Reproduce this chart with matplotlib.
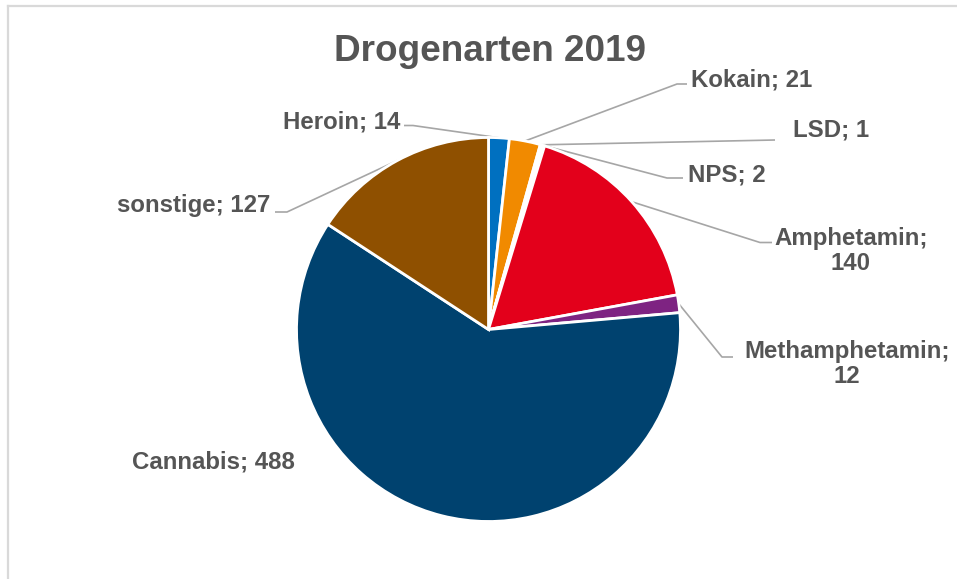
import matplotlib
matplotlib.use("Agg")
import matplotlib.pyplot as plt
import numpy as np

W, H = 957, 579
DPI = 100

title = "Drogenarten 2019"
categories = ["Heroin", "Kokain", "LSD", "NPS", "Amphetamin", "Methamphetamin", "Cannabis", "sonstige"]
values = [14, 21, 1, 2, 140, 12, 488, 127]
colors = ["#0070C0", "#F18A00", "#FFFFFF", "#FFFFFF", "#E3001B", "#7E2382", "#00426F", "#8F5000"]
# which labels break after the semicolon
two_line = ["Amphetamin", "Methamphetamin"]

# label layout in pixel coordinates (y measured from top; baseline of last line)
label_pos = {
    "Heroin": (400, 128.3, "right"),
    "Kokain": (691, 86, "left"),
    "LSD": (793, 136, "left"),
    "NPS": (688, 181.7, "left"),
    "Amphetamin": (851, 270, "center"),
    "Methamphetamin": (847, 383, "center"),
    "Cannabis": (132, 468, "left"),
    "sonstige": (270, 211.7, "right"),
}
leader_pts = {
    "Heroin": [(413, 125.5), (404, 125.5)],
    "Kokain": [(677, 84), (687, 84)],
    "LSD": [(775, 140)],
    "NPS": [(667, 178), (683, 178)],
    "Amphetamin": [(760, 242.5), (772, 242.5)],
    "Methamphetamin": [(722, 357), (733, 357)],
    "sonstige": [(287, 212), (275, 212)],
}

FONT = ["Liberation Sans", "Arial", "DejaVu Sans"]
TXT = "#555555"
LEAD = "#A6A6A6"

fig = plt.figure(figsize=(W / DPI, H / DPI), dpi=DPI)
fig.patch.set_facecolor("white")
ax = fig.add_axes([0, 0, 1, 1])

cx, cy, R = 488.5, H - 329.5, 192
wedges, _ = ax.pie(values, colors=colors, startangle=90, counterclock=False,
                   center=(cx, cy), radius=R,
                   wedgeprops=dict(edgecolor="white", linewidth=2.0))
ax.set_xlim(0, W)
ax.set_ylim(0, H)
ax.set_aspect("equal")
ax.axis("off")

def Y(y):
    return H - y

for cat, val, w in zip(categories, values, wedges):
    sep = "\n" if cat in two_line else " "
    txt = f"{cat};{sep}{val}"
    x, y, ha = label_pos[cat]
    ax.text(x, Y(y), txt, ha=ha, va="baseline", multialignment="center",
            fontsize=17.3, fontweight="bold", color=TXT, family=FONT,
            linespacing=1.12)
    if cat in leader_pts:
        mid = np.deg2rad((w.theta1 + w.theta2) / 2)
        sx = w.center[0] + w.r * np.cos(mid)
        sy = w.center[1] + w.r * np.sin(mid)
        xs = [sx] + [p[0] for p in leader_pts[cat]]
        ys = [sy] + [Y(p[1]) for p in leader_pts[cat]]
        ax.plot(xs, ys, color=LEAD, lw=1.2, solid_capstyle="butt", zorder=0.5)

ax.text(489.5, Y(60.7), title, ha="center", va="baseline", fontsize=26.6,
        fontweight="bold", color=TXT, family=FONT)

# chart-area frame (top and left edges visible)
ax.plot([7.5, W], [Y(5.5), Y(5.5)], color="#D9D9D9", lw=1.6, clip_on=False)
ax.plot([7.5, 7.5], [Y(5.5), 0], color="#D9D9D9", lw=1.6, clip_on=False)

fig.savefig("out.png", dpi=DPI, facecolor="white")
